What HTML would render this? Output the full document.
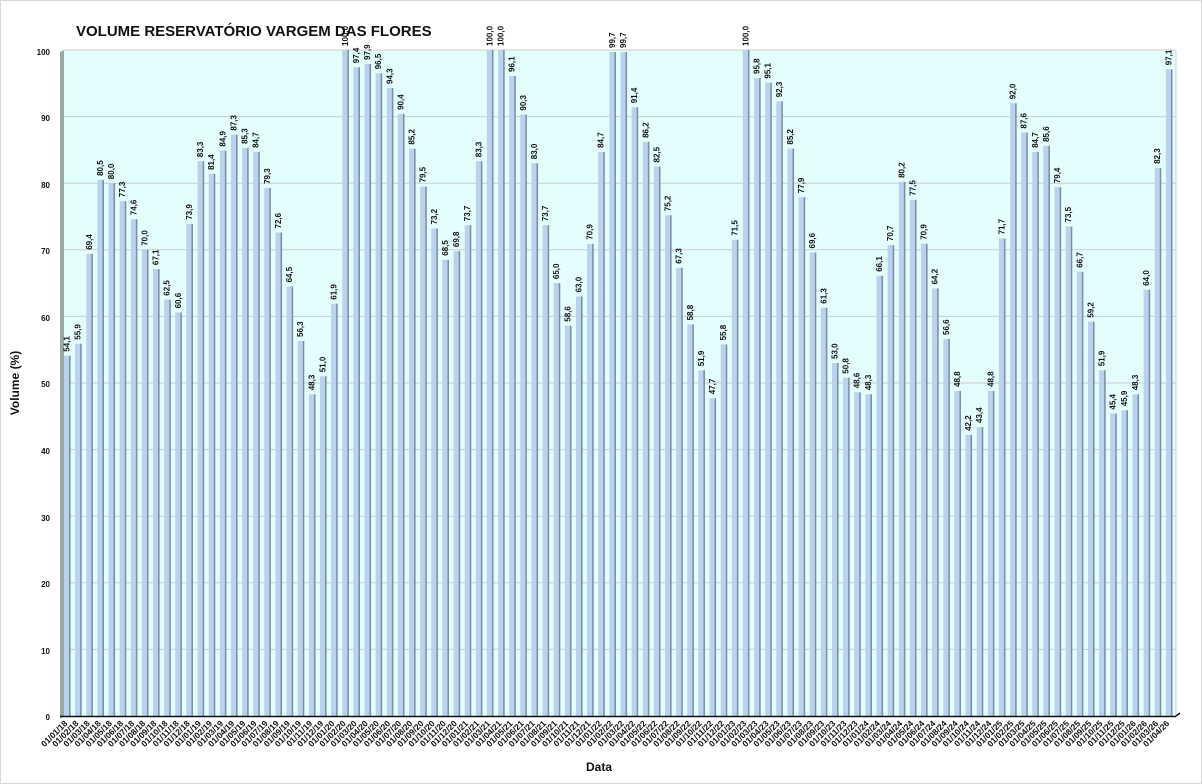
<!DOCTYPE html>
<html><head><meta charset="utf-8"><style>
body{margin:0;background:#fff}
svg{display:block;font-family:"Liberation Sans",Arial,sans-serif}
.b{fill:#b9d2ee}.e{fill:#7d8fa3}
.v{font-size:8px;font-weight:bold;fill:#111}
.x{font-size:8.5px;font-weight:bold;fill:#111;text-anchor:end}
.y{font-size:8px;font-weight:bold;fill:#111;text-anchor:end}
</style></head><body>
<svg width="1202" height="784" viewBox="0 0 1202 784">
<rect x="0.5" y="0.5" width="1201" height="783" fill="#fff" stroke="#d8d8d8"/>
<rect x="64" y="50" width="1112" height="666" fill="#e4fdfd"/>
<polygon points="60,52 64,50 64,716 60,719" fill="#9aa8a8"/>
<g stroke="#c8d0d0" stroke-width="1">
<line x1="64" x2="1176" y1="50" y2="50"/><line x1="64" x2="1176" y1="116.6" y2="116.6"/><line x1="64" x2="1176" y1="183.2" y2="183.2"/><line x1="64" x2="1176" y1="249.8" y2="249.8"/><line x1="64" x2="1176" y1="316.4" y2="316.4"/><line x1="64" x2="1176" y1="383" y2="383"/><line x1="64" x2="1176" y1="449.6" y2="449.6"/><line x1="64" x2="1176" y1="516.2" y2="516.2"/><line x1="64" x2="1176" y1="582.8" y2="582.8"/><line x1="64" x2="1176" y1="649.4" y2="649.4"/>
</g>
<line x1="1176" y1="50" x2="1176" y2="716" stroke="#c8d0d0"/>
<g class="y"><text x="50" y="55">100</text><text x="50" y="121">90</text><text x="50" y="188">80</text><text x="50" y="254">70</text><text x="50" y="321">60</text><text x="50" y="387">50</text><text x="50" y="454">40</text><text x="50" y="521">30</text><text x="50" y="587">20</text><text x="50" y="654">10</text><text x="50" y="720">0</text></g>
<text x="76" y="36" font-size="15" font-weight="bold" fill="#111">VOLUME RESERVATÓRIO VARGEM DAS FLORES</text>
<text transform="translate(19,383) rotate(-90)" font-size="12" font-weight="bold" text-anchor="middle" fill="#111">Volume (%)</text>
<text x="599" y="771" font-size="12" font-weight="bold" text-anchor="middle" fill="#111">Data</text>
<g id="bars">
<g transform="translate(64.0,716)"><rect class="b" y="-360.3" width="5" height="360.3"/><rect class="e" x="5" y="-360.3" width="1.6" height="360.3"/><text class="v" transform="translate(5.5,-364.3) rotate(-90)">54,1</text></g>
<g transform="translate(75.1,716)"><rect class="b" y="-372.3" width="5" height="372.3"/><rect class="e" x="5" y="-372.3" width="1.6" height="372.3"/><text class="v" transform="translate(5.5,-376.3) rotate(-90)">55,9</text></g>
<g transform="translate(86.3,716)"><rect class="b" y="-462.2" width="5" height="462.2"/><rect class="e" x="5" y="-462.2" width="1.6" height="462.2"/><text class="v" transform="translate(5.5,-466.2) rotate(-90)">69,4</text></g>
<g transform="translate(97.4,716)"><rect class="b" y="-536.1" width="5" height="536.1"/><rect class="e" x="5" y="-536.1" width="1.6" height="536.1"/><text class="v" transform="translate(5.5,-540.1) rotate(-90)">80,5</text></g>
<g transform="translate(108.5,716)"><rect class="b" y="-532.8" width="5" height="532.8"/><rect class="e" x="5" y="-532.8" width="1.6" height="532.8"/><text class="v" transform="translate(5.5,-536.8) rotate(-90)">80,0</text></g>
<g transform="translate(119.7,716)"><rect class="b" y="-514.8" width="5" height="514.8"/><rect class="e" x="5" y="-514.8" width="1.6" height="514.8"/><text class="v" transform="translate(5.5,-518.8) rotate(-90)">77,3</text></g>
<g transform="translate(130.8,716)"><rect class="b" y="-496.8" width="5" height="496.8"/><rect class="e" x="5" y="-496.8" width="1.6" height="496.8"/><text class="v" transform="translate(5.5,-500.8) rotate(-90)">74,6</text></g>
<g transform="translate(141.9,716)"><rect class="b" y="-466.2" width="5" height="466.2"/><rect class="e" x="5" y="-466.2" width="1.6" height="466.2"/><text class="v" transform="translate(5.5,-470.2) rotate(-90)">70,0</text></g>
<g transform="translate(153.0,716)"><rect class="b" y="-446.9" width="5" height="446.9"/><rect class="e" x="5" y="-446.9" width="1.6" height="446.9"/><text class="v" transform="translate(5.5,-450.9) rotate(-90)">67,1</text></g>
<g transform="translate(164.2,716)"><rect class="b" y="-416.3" width="5" height="416.3"/><rect class="e" x="5" y="-416.3" width="1.6" height="416.3"/><text class="v" transform="translate(5.5,-420.3) rotate(-90)">62,5</text></g>
<g transform="translate(175.3,716)"><rect class="b" y="-403.6" width="5" height="403.6"/><rect class="e" x="5" y="-403.6" width="1.6" height="403.6"/><text class="v" transform="translate(5.5,-407.6) rotate(-90)">60,6</text></g>
<g transform="translate(186.4,716)"><rect class="b" y="-492.2" width="5" height="492.2"/><rect class="e" x="5" y="-492.2" width="1.6" height="492.2"/><text class="v" transform="translate(5.5,-496.2) rotate(-90)">73,9</text></g>
<g transform="translate(197.6,716)"><rect class="b" y="-554.8" width="5" height="554.8"/><rect class="e" x="5" y="-554.8" width="1.6" height="554.8"/><text class="v" transform="translate(5.5,-558.8) rotate(-90)">83,3</text></g>
<g transform="translate(208.7,716)"><rect class="b" y="-542.1" width="5" height="542.1"/><rect class="e" x="5" y="-542.1" width="1.6" height="542.1"/><text class="v" transform="translate(5.5,-546.1) rotate(-90)">81,4</text></g>
<g transform="translate(219.8,716)"><rect class="b" y="-565.4" width="5" height="565.4"/><rect class="e" x="5" y="-565.4" width="1.6" height="565.4"/><text class="v" transform="translate(5.5,-569.4) rotate(-90)">84,9</text></g>
<g transform="translate(231.0,716)"><rect class="b" y="-581.4" width="5" height="581.4"/><rect class="e" x="5" y="-581.4" width="1.6" height="581.4"/><text class="v" transform="translate(5.5,-585.4) rotate(-90)">87,3</text></g>
<g transform="translate(242.1,716)"><rect class="b" y="-568.1" width="5" height="568.1"/><rect class="e" x="5" y="-568.1" width="1.6" height="568.1"/><text class="v" transform="translate(5.5,-572.1) rotate(-90)">85,3</text></g>
<g transform="translate(253.2,716)"><rect class="b" y="-564.1" width="5" height="564.1"/><rect class="e" x="5" y="-564.1" width="1.6" height="564.1"/><text class="v" transform="translate(5.5,-568.1) rotate(-90)">84,7</text></g>
<g transform="translate(264.3,716)"><rect class="b" y="-528.1" width="5" height="528.1"/><rect class="e" x="5" y="-528.1" width="1.6" height="528.1"/><text class="v" transform="translate(5.5,-532.1) rotate(-90)">79,3</text></g>
<g transform="translate(275.5,716)"><rect class="b" y="-483.5" width="5" height="483.5"/><rect class="e" x="5" y="-483.5" width="1.6" height="483.5"/><text class="v" transform="translate(5.5,-487.5) rotate(-90)">72,6</text></g>
<g transform="translate(286.6,716)"><rect class="b" y="-429.6" width="5" height="429.6"/><rect class="e" x="5" y="-429.6" width="1.6" height="429.6"/><text class="v" transform="translate(5.5,-433.6) rotate(-90)">64,5</text></g>
<g transform="translate(297.7,716)"><rect class="b" y="-375.0" width="5" height="375.0"/><rect class="e" x="5" y="-375.0" width="1.6" height="375.0"/><text class="v" transform="translate(5.5,-379.0) rotate(-90)">56,3</text></g>
<g transform="translate(308.9,716)"><rect class="b" y="-321.7" width="5" height="321.7"/><rect class="e" x="5" y="-321.7" width="1.6" height="321.7"/><text class="v" transform="translate(5.5,-325.7) rotate(-90)">48,3</text></g>
<g transform="translate(320.0,716)"><rect class="b" y="-339.7" width="5" height="339.7"/><rect class="e" x="5" y="-339.7" width="1.6" height="339.7"/><text class="v" transform="translate(5.5,-343.7) rotate(-90)">51,0</text></g>
<g transform="translate(331.1,716)"><rect class="b" y="-412.3" width="5" height="412.3"/><rect class="e" x="5" y="-412.3" width="1.6" height="412.3"/><text class="v" transform="translate(5.5,-416.3) rotate(-90)">61,9</text></g>
<g transform="translate(342.3,716)"><rect class="b" y="-666" width="5" height="666"/><rect class="e" x="5" y="-666" width="1.6" height="666"/><text class="v" transform="translate(5.5,-670) rotate(-90)">100,0</text></g>
<g transform="translate(353.4,716)"><rect class="b" y="-648.7" width="5" height="648.7"/><rect class="e" x="5" y="-648.7" width="1.6" height="648.7"/><text class="v" transform="translate(5.5,-652.7) rotate(-90)">97,4</text></g>
<g transform="translate(364.5,716)"><rect class="b" y="-652.0" width="5" height="652.0"/><rect class="e" x="5" y="-652.0" width="1.6" height="652.0"/><text class="v" transform="translate(5.5,-656.0) rotate(-90)">97,9</text></g>
<g transform="translate(375.6,716)"><rect class="b" y="-642.7" width="5" height="642.7"/><rect class="e" x="5" y="-642.7" width="1.6" height="642.7"/><text class="v" transform="translate(5.5,-646.7) rotate(-90)">96,5</text></g>
<g transform="translate(386.8,716)"><rect class="b" y="-628.0" width="5" height="628.0"/><rect class="e" x="5" y="-628.0" width="1.6" height="628.0"/><text class="v" transform="translate(5.5,-632.0) rotate(-90)">94,3</text></g>
<g transform="translate(397.9,716)"><rect class="b" y="-602.1" width="5" height="602.1"/><rect class="e" x="5" y="-602.1" width="1.6" height="602.1"/><text class="v" transform="translate(5.5,-606.1) rotate(-90)">90,4</text></g>
<g transform="translate(409.0,716)"><rect class="b" y="-567.4" width="5" height="567.4"/><rect class="e" x="5" y="-567.4" width="1.6" height="567.4"/><text class="v" transform="translate(5.5,-571.4) rotate(-90)">85,2</text></g>
<g transform="translate(420.2,716)"><rect class="b" y="-529.5" width="5" height="529.5"/><rect class="e" x="5" y="-529.5" width="1.6" height="529.5"/><text class="v" transform="translate(5.5,-533.5) rotate(-90)">79,5</text></g>
<g transform="translate(431.3,716)"><rect class="b" y="-487.5" width="5" height="487.5"/><rect class="e" x="5" y="-487.5" width="1.6" height="487.5"/><text class="v" transform="translate(5.5,-491.5) rotate(-90)">73,2</text></g>
<g transform="translate(442.4,716)"><rect class="b" y="-456.2" width="5" height="456.2"/><rect class="e" x="5" y="-456.2" width="1.6" height="456.2"/><text class="v" transform="translate(5.5,-460.2) rotate(-90)">68,5</text></g>
<g transform="translate(453.6,716)"><rect class="b" y="-464.9" width="5" height="464.9"/><rect class="e" x="5" y="-464.9" width="1.6" height="464.9"/><text class="v" transform="translate(5.5,-468.9) rotate(-90)">69,8</text></g>
<g transform="translate(464.7,716)"><rect class="b" y="-490.8" width="5" height="490.8"/><rect class="e" x="5" y="-490.8" width="1.6" height="490.8"/><text class="v" transform="translate(5.5,-494.8) rotate(-90)">73,7</text></g>
<g transform="translate(475.8,716)"><rect class="b" y="-554.8" width="5" height="554.8"/><rect class="e" x="5" y="-554.8" width="1.6" height="554.8"/><text class="v" transform="translate(5.5,-558.8) rotate(-90)">83,3</text></g>
<g transform="translate(486.9,716)"><rect class="b" y="-666" width="5" height="666"/><rect class="e" x="5" y="-666" width="1.6" height="666"/><text class="v" transform="translate(5.5,-670) rotate(-90)">100,0</text></g>
<g transform="translate(498.1,716)"><rect class="b" y="-666" width="5" height="666"/><rect class="e" x="5" y="-666" width="1.6" height="666"/><text class="v" transform="translate(5.5,-670) rotate(-90)">100,0</text></g>
<g transform="translate(509.2,716)"><rect class="b" y="-640.0" width="5" height="640.0"/><rect class="e" x="5" y="-640.0" width="1.6" height="640.0"/><text class="v" transform="translate(5.5,-644.0) rotate(-90)">96,1</text></g>
<g transform="translate(520.3,716)"><rect class="b" y="-601.4" width="5" height="601.4"/><rect class="e" x="5" y="-601.4" width="1.6" height="601.4"/><text class="v" transform="translate(5.5,-605.4) rotate(-90)">90,3</text></g>
<g transform="translate(531.5,716)"><rect class="b" y="-552.8" width="5" height="552.8"/><rect class="e" x="5" y="-552.8" width="1.6" height="552.8"/><text class="v" transform="translate(5.5,-556.8) rotate(-90)">83,0</text></g>
<g transform="translate(542.6,716)"><rect class="b" y="-490.8" width="5" height="490.8"/><rect class="e" x="5" y="-490.8" width="1.6" height="490.8"/><text class="v" transform="translate(5.5,-494.8) rotate(-90)">73,7</text></g>
<g transform="translate(553.7,716)"><rect class="b" y="-432.9" width="5" height="432.9"/><rect class="e" x="5" y="-432.9" width="1.6" height="432.9"/><text class="v" transform="translate(5.5,-436.9) rotate(-90)">65,0</text></g>
<g transform="translate(564.9,716)"><rect class="b" y="-390.3" width="5" height="390.3"/><rect class="e" x="5" y="-390.3" width="1.6" height="390.3"/><text class="v" transform="translate(5.5,-394.3) rotate(-90)">58,6</text></g>
<g transform="translate(576.0,716)"><rect class="b" y="-419.6" width="5" height="419.6"/><rect class="e" x="5" y="-419.6" width="1.6" height="419.6"/><text class="v" transform="translate(5.5,-423.6) rotate(-90)">63,0</text></g>
<g transform="translate(587.1,716)"><rect class="b" y="-472.2" width="5" height="472.2"/><rect class="e" x="5" y="-472.2" width="1.6" height="472.2"/><text class="v" transform="translate(5.5,-476.2) rotate(-90)">70,9</text></g>
<g transform="translate(598.2,716)"><rect class="b" y="-564.1" width="5" height="564.1"/><rect class="e" x="5" y="-564.1" width="1.6" height="564.1"/><text class="v" transform="translate(5.5,-568.1) rotate(-90)">84,7</text></g>
<g transform="translate(609.4,716)"><rect class="b" y="-664.0" width="5" height="664.0"/><rect class="e" x="5" y="-664.0" width="1.6" height="664.0"/><text class="v" transform="translate(5.5,-668.0) rotate(-90)">99,7</text></g>
<g transform="translate(620.5,716)"><rect class="b" y="-664.0" width="5" height="664.0"/><rect class="e" x="5" y="-664.0" width="1.6" height="664.0"/><text class="v" transform="translate(5.5,-668.0) rotate(-90)">99,7</text></g>
<g transform="translate(631.6,716)"><rect class="b" y="-608.7" width="5" height="608.7"/><rect class="e" x="5" y="-608.7" width="1.6" height="608.7"/><text class="v" transform="translate(5.5,-612.7) rotate(-90)">91,4</text></g>
<g transform="translate(642.8,716)"><rect class="b" y="-574.1" width="5" height="574.1"/><rect class="e" x="5" y="-574.1" width="1.6" height="574.1"/><text class="v" transform="translate(5.5,-578.1) rotate(-90)">86,2</text></g>
<g transform="translate(653.9,716)"><rect class="b" y="-549.5" width="5" height="549.5"/><rect class="e" x="5" y="-549.5" width="1.6" height="549.5"/><text class="v" transform="translate(5.5,-553.5) rotate(-90)">82,5</text></g>
<g transform="translate(665.0,716)"><rect class="b" y="-500.8" width="5" height="500.8"/><rect class="e" x="5" y="-500.8" width="1.6" height="500.8"/><text class="v" transform="translate(5.5,-504.8) rotate(-90)">75,2</text></g>
<g transform="translate(676.2,716)"><rect class="b" y="-448.2" width="5" height="448.2"/><rect class="e" x="5" y="-448.2" width="1.6" height="448.2"/><text class="v" transform="translate(5.5,-452.2) rotate(-90)">67,3</text></g>
<g transform="translate(687.3,716)"><rect class="b" y="-391.6" width="5" height="391.6"/><rect class="e" x="5" y="-391.6" width="1.6" height="391.6"/><text class="v" transform="translate(5.5,-395.6) rotate(-90)">58,8</text></g>
<g transform="translate(698.4,716)"><rect class="b" y="-345.7" width="5" height="345.7"/><rect class="e" x="5" y="-345.7" width="1.6" height="345.7"/><text class="v" transform="translate(5.5,-349.7) rotate(-90)">51,9</text></g>
<g transform="translate(709.5,716)"><rect class="b" y="-317.7" width="5" height="317.7"/><rect class="e" x="5" y="-317.7" width="1.6" height="317.7"/><text class="v" transform="translate(5.5,-321.7) rotate(-90)">47,7</text></g>
<g transform="translate(720.7,716)"><rect class="b" y="-371.6" width="5" height="371.6"/><rect class="e" x="5" y="-371.6" width="1.6" height="371.6"/><text class="v" transform="translate(5.5,-375.6) rotate(-90)">55,8</text></g>
<g transform="translate(731.8,716)"><rect class="b" y="-476.2" width="5" height="476.2"/><rect class="e" x="5" y="-476.2" width="1.6" height="476.2"/><text class="v" transform="translate(5.5,-480.2) rotate(-90)">71,5</text></g>
<g transform="translate(742.9,716)"><rect class="b" y="-666" width="5" height="666"/><rect class="e" x="5" y="-666" width="1.6" height="666"/><text class="v" transform="translate(5.5,-670) rotate(-90)">100,0</text></g>
<g transform="translate(754.1,716)"><rect class="b" y="-638.0" width="5" height="638.0"/><rect class="e" x="5" y="-638.0" width="1.6" height="638.0"/><text class="v" transform="translate(5.5,-642.0) rotate(-90)">95,8</text></g>
<g transform="translate(765.2,716)"><rect class="b" y="-633.4" width="5" height="633.4"/><rect class="e" x="5" y="-633.4" width="1.6" height="633.4"/><text class="v" transform="translate(5.5,-637.4) rotate(-90)">95,1</text></g>
<g transform="translate(776.3,716)"><rect class="b" y="-614.7" width="5" height="614.7"/><rect class="e" x="5" y="-614.7" width="1.6" height="614.7"/><text class="v" transform="translate(5.5,-618.7) rotate(-90)">92,3</text></g>
<g transform="translate(787.5,716)"><rect class="b" y="-567.4" width="5" height="567.4"/><rect class="e" x="5" y="-567.4" width="1.6" height="567.4"/><text class="v" transform="translate(5.5,-571.4) rotate(-90)">85,2</text></g>
<g transform="translate(798.6,716)"><rect class="b" y="-518.8" width="5" height="518.8"/><rect class="e" x="5" y="-518.8" width="1.6" height="518.8"/><text class="v" transform="translate(5.5,-522.8) rotate(-90)">77,9</text></g>
<g transform="translate(809.7,716)"><rect class="b" y="-463.5" width="5" height="463.5"/><rect class="e" x="5" y="-463.5" width="1.6" height="463.5"/><text class="v" transform="translate(5.5,-467.5) rotate(-90)">69,6</text></g>
<g transform="translate(820.8,716)"><rect class="b" y="-408.3" width="5" height="408.3"/><rect class="e" x="5" y="-408.3" width="1.6" height="408.3"/><text class="v" transform="translate(5.5,-412.3) rotate(-90)">61,3</text></g>
<g transform="translate(832.0,716)"><rect class="b" y="-353.0" width="5" height="353.0"/><rect class="e" x="5" y="-353.0" width="1.6" height="353.0"/><text class="v" transform="translate(5.5,-357.0) rotate(-90)">53,0</text></g>
<g transform="translate(843.1,716)"><rect class="b" y="-338.3" width="5" height="338.3"/><rect class="e" x="5" y="-338.3" width="1.6" height="338.3"/><text class="v" transform="translate(5.5,-342.3) rotate(-90)">50,8</text></g>
<g transform="translate(854.2,716)"><rect class="b" y="-323.7" width="5" height="323.7"/><rect class="e" x="5" y="-323.7" width="1.6" height="323.7"/><text class="v" transform="translate(5.5,-327.7) rotate(-90)">48,6</text></g>
<g transform="translate(865.4,716)"><rect class="b" y="-321.7" width="5" height="321.7"/><rect class="e" x="5" y="-321.7" width="1.6" height="321.7"/><text class="v" transform="translate(5.5,-325.7) rotate(-90)">48,3</text></g>
<g transform="translate(876.5,716)"><rect class="b" y="-440.2" width="5" height="440.2"/><rect class="e" x="5" y="-440.2" width="1.6" height="440.2"/><text class="v" transform="translate(5.5,-444.2) rotate(-90)">66,1</text></g>
<g transform="translate(887.6,716)"><rect class="b" y="-470.9" width="5" height="470.9"/><rect class="e" x="5" y="-470.9" width="1.6" height="470.9"/><text class="v" transform="translate(5.5,-474.9) rotate(-90)">70,7</text></g>
<g transform="translate(898.8,716)"><rect class="b" y="-534.1" width="5" height="534.1"/><rect class="e" x="5" y="-534.1" width="1.6" height="534.1"/><text class="v" transform="translate(5.5,-538.1) rotate(-90)">80,2</text></g>
<g transform="translate(909.9,716)"><rect class="b" y="-516.2" width="5" height="516.2"/><rect class="e" x="5" y="-516.2" width="1.6" height="516.2"/><text class="v" transform="translate(5.5,-520.2) rotate(-90)">77,5</text></g>
<g transform="translate(921.0,716)"><rect class="b" y="-472.2" width="5" height="472.2"/><rect class="e" x="5" y="-472.2" width="1.6" height="472.2"/><text class="v" transform="translate(5.5,-476.2) rotate(-90)">70,9</text></g>
<g transform="translate(932.1,716)"><rect class="b" y="-427.6" width="5" height="427.6"/><rect class="e" x="5" y="-427.6" width="1.6" height="427.6"/><text class="v" transform="translate(5.5,-431.6) rotate(-90)">64,2</text></g>
<g transform="translate(943.3,716)"><rect class="b" y="-377.0" width="5" height="377.0"/><rect class="e" x="5" y="-377.0" width="1.6" height="377.0"/><text class="v" transform="translate(5.5,-381.0) rotate(-90)">56,6</text></g>
<g transform="translate(954.4,716)"><rect class="b" y="-325.0" width="5" height="325.0"/><rect class="e" x="5" y="-325.0" width="1.6" height="325.0"/><text class="v" transform="translate(5.5,-329.0) rotate(-90)">48,8</text></g>
<g transform="translate(965.5,716)"><rect class="b" y="-281.1" width="5" height="281.1"/><rect class="e" x="5" y="-281.1" width="1.6" height="281.1"/><text class="v" transform="translate(5.5,-285.1) rotate(-90)">42,2</text></g>
<g transform="translate(976.7,716)"><rect class="b" y="-289.0" width="5" height="289.0"/><rect class="e" x="5" y="-289.0" width="1.6" height="289.0"/><text class="v" transform="translate(5.5,-293.0) rotate(-90)">43,4</text></g>
<g transform="translate(987.8,716)"><rect class="b" y="-325.0" width="5" height="325.0"/><rect class="e" x="5" y="-325.0" width="1.6" height="325.0"/><text class="v" transform="translate(5.5,-329.0) rotate(-90)">48,8</text></g>
<g transform="translate(998.9,716)"><rect class="b" y="-477.5" width="5" height="477.5"/><rect class="e" x="5" y="-477.5" width="1.6" height="477.5"/><text class="v" transform="translate(5.5,-481.5) rotate(-90)">71,7</text></g>
<g transform="translate(1010.1,716)"><rect class="b" y="-612.7" width="5" height="612.7"/><rect class="e" x="5" y="-612.7" width="1.6" height="612.7"/><text class="v" transform="translate(5.5,-616.7) rotate(-90)">92,0</text></g>
<g transform="translate(1021.2,716)"><rect class="b" y="-583.4" width="5" height="583.4"/><rect class="e" x="5" y="-583.4" width="1.6" height="583.4"/><text class="v" transform="translate(5.5,-587.4) rotate(-90)">87,6</text></g>
<g transform="translate(1032.3,716)"><rect class="b" y="-564.1" width="5" height="564.1"/><rect class="e" x="5" y="-564.1" width="1.6" height="564.1"/><text class="v" transform="translate(5.5,-568.1) rotate(-90)">84,7</text></g>
<g transform="translate(1043.4,716)"><rect class="b" y="-570.1" width="5" height="570.1"/><rect class="e" x="5" y="-570.1" width="1.6" height="570.1"/><text class="v" transform="translate(5.5,-574.1) rotate(-90)">85,6</text></g>
<g transform="translate(1054.6,716)"><rect class="b" y="-528.8" width="5" height="528.8"/><rect class="e" x="5" y="-528.8" width="1.6" height="528.8"/><text class="v" transform="translate(5.5,-532.8) rotate(-90)">79,4</text></g>
<g transform="translate(1065.7,716)"><rect class="b" y="-489.5" width="5" height="489.5"/><rect class="e" x="5" y="-489.5" width="1.6" height="489.5"/><text class="v" transform="translate(5.5,-493.5) rotate(-90)">73,5</text></g>
<g transform="translate(1076.8,716)"><rect class="b" y="-444.2" width="5" height="444.2"/><rect class="e" x="5" y="-444.2" width="1.6" height="444.2"/><text class="v" transform="translate(5.5,-448.2) rotate(-90)">66,7</text></g>
<g transform="translate(1088.0,716)"><rect class="b" y="-394.3" width="5" height="394.3"/><rect class="e" x="5" y="-394.3" width="1.6" height="394.3"/><text class="v" transform="translate(5.5,-398.3) rotate(-90)">59,2</text></g>
<g transform="translate(1099.1,716)"><rect class="b" y="-345.7" width="5" height="345.7"/><rect class="e" x="5" y="-345.7" width="1.6" height="345.7"/><text class="v" transform="translate(5.5,-349.7) rotate(-90)">51,9</text></g>
<g transform="translate(1110.2,716)"><rect class="b" y="-302.4" width="5" height="302.4"/><rect class="e" x="5" y="-302.4" width="1.6" height="302.4"/><text class="v" transform="translate(5.5,-306.4) rotate(-90)">45,4</text></g>
<g transform="translate(1121.4,716)"><rect class="b" y="-305.7" width="5" height="305.7"/><rect class="e" x="5" y="-305.7" width="1.6" height="305.7"/><text class="v" transform="translate(5.5,-309.7) rotate(-90)">45,9</text></g>
<g transform="translate(1132.5,716)"><rect class="b" y="-321.7" width="5" height="321.7"/><rect class="e" x="5" y="-321.7" width="1.6" height="321.7"/><text class="v" transform="translate(5.5,-325.7) rotate(-90)">48,3</text></g>
<g transform="translate(1143.6,716)"><rect class="b" y="-426.2" width="5" height="426.2"/><rect class="e" x="5" y="-426.2" width="1.6" height="426.2"/><text class="v" transform="translate(5.5,-430.2) rotate(-90)">64,0</text></g>
<g transform="translate(1154.7,716)"><rect class="b" y="-548.1" width="5" height="548.1"/><rect class="e" x="5" y="-548.1" width="1.6" height="548.1"/><text class="v" transform="translate(5.5,-552.1) rotate(-90)">82,3</text></g>
<g transform="translate(1165.9,716)"><rect class="b" y="-646.7" width="5" height="646.7"/><rect class="e" x="5" y="-646.7" width="1.6" height="646.7"/><text class="v" transform="translate(5.5,-650.7) rotate(-90)">97,1</text></g>
</g>
<line x1="60" y1="716.5" x2="1176" y2="716.5" stroke="#111" stroke-width="1.5"/>
<line x1="1176" y1="716" x2="1180" y2="713" stroke="#111" stroke-width="1.5"/>
<g class="x" transform="translate(-3,2)">
<text transform="translate(71,722) rotate(-45)">01/01/18</text><text transform="translate(82.1,722) rotate(-45)">01/02/18</text><text transform="translate(93.3,722) rotate(-45)">01/03/18</text><text transform="translate(104.4,722) rotate(-45)">01/04/18</text><text transform="translate(115.5,722) rotate(-45)">01/05/18</text><text transform="translate(126.7,722) rotate(-45)">01/06/18</text><text transform="translate(137.8,722) rotate(-45)">01/07/18</text><text transform="translate(148.9,722) rotate(-45)">01/08/18</text><text transform="translate(160,722) rotate(-45)">01/09/18</text><text transform="translate(171.2,722) rotate(-45)">01/10/18</text><text transform="translate(182.3,722) rotate(-45)">01/11/18</text><text transform="translate(193.4,722) rotate(-45)">01/12/18</text>
<text transform="translate(204.6,722) rotate(-45)">01/01/19</text><text transform="translate(215.7,722) rotate(-45)">01/02/19</text><text transform="translate(226.8,722) rotate(-45)">01/03/19</text><text transform="translate(238,722) rotate(-45)">01/04/19</text><text transform="translate(249.1,722) rotate(-45)">01/05/19</text><text transform="translate(260.2,722) rotate(-45)">01/06/19</text><text transform="translate(271.3,722) rotate(-45)">01/07/19</text><text transform="translate(282.5,722) rotate(-45)">01/08/19</text><text transform="translate(293.6,722) rotate(-45)">01/09/19</text><text transform="translate(304.7,722) rotate(-45)">01/10/19</text><text transform="translate(315.9,722) rotate(-45)">01/11/19</text><text transform="translate(327,722) rotate(-45)">01/12/19</text>
<text transform="translate(338.1,722) rotate(-45)">01/01/20</text><text transform="translate(349.3,722) rotate(-45)">01/02/20</text><text transform="translate(360.4,722) rotate(-45)">01/03/20</text><text transform="translate(371.5,722) rotate(-45)">01/04/20</text><text transform="translate(382.6,722) rotate(-45)">01/05/20</text><text transform="translate(393.8,722) rotate(-45)">01/06/20</text><text transform="translate(404.9,722) rotate(-45)">01/07/20</text><text transform="translate(416,722) rotate(-45)">01/08/20</text><text transform="translate(427.2,722) rotate(-45)">01/09/20</text><text transform="translate(438.3,722) rotate(-45)">01/10/20</text><text transform="translate(449.4,722) rotate(-45)">01/11/20</text><text transform="translate(460.6,722) rotate(-45)">01/12/20</text>
<text transform="translate(471.7,722) rotate(-45)">01/01/21</text><text transform="translate(482.8,722) rotate(-45)">01/02/21</text><text transform="translate(493.9,722) rotate(-45)">01/03/21</text><text transform="translate(505.1,722) rotate(-45)">01/04/21</text><text transform="translate(516.2,722) rotate(-45)">01/05/21</text><text transform="translate(527.3,722) rotate(-45)">01/06/21</text><text transform="translate(538.5,722) rotate(-45)">01/07/21</text><text transform="translate(549.6,722) rotate(-45)">01/08/21</text><text transform="translate(560.7,722) rotate(-45)">01/09/21</text><text transform="translate(571.9,722) rotate(-45)">01/10/21</text><text transform="translate(583,722) rotate(-45)">01/11/21</text><text transform="translate(594.1,722) rotate(-45)">01/12/21</text>
<text transform="translate(605.2,722) rotate(-45)">01/01/22</text><text transform="translate(616.4,722) rotate(-45)">01/02/22</text><text transform="translate(627.5,722) rotate(-45)">01/03/22</text><text transform="translate(638.6,722) rotate(-45)">01/04/22</text><text transform="translate(649.8,722) rotate(-45)">01/05/22</text><text transform="translate(660.9,722) rotate(-45)">01/06/22</text><text transform="translate(672,722) rotate(-45)">01/07/22</text><text transform="translate(683.2,722) rotate(-45)">01/08/22</text><text transform="translate(694.3,722) rotate(-45)">01/09/22</text><text transform="translate(705.4,722) rotate(-45)">01/10/22</text><text transform="translate(716.5,722) rotate(-45)">01/11/22</text><text transform="translate(727.7,722) rotate(-45)">01/12/22</text>
<text transform="translate(738.8,722) rotate(-45)">01/01/23</text><text transform="translate(749.9,722) rotate(-45)">01/02/23</text><text transform="translate(761.1,722) rotate(-45)">01/03/23</text><text transform="translate(772.2,722) rotate(-45)">01/04/23</text><text transform="translate(783.3,722) rotate(-45)">01/05/23</text><text transform="translate(794.5,722) rotate(-45)">01/06/23</text><text transform="translate(805.6,722) rotate(-45)">01/07/23</text><text transform="translate(816.7,722) rotate(-45)">01/08/23</text><text transform="translate(827.8,722) rotate(-45)">01/09/23</text><text transform="translate(839,722) rotate(-45)">01/10/23</text><text transform="translate(850.1,722) rotate(-45)">01/11/23</text><text transform="translate(861.2,722) rotate(-45)">01/12/23</text>
<text transform="translate(872.4,722) rotate(-45)">01/01/24</text><text transform="translate(883.5,722) rotate(-45)">01/02/24</text><text transform="translate(894.6,722) rotate(-45)">01/03/24</text><text transform="translate(905.8,722) rotate(-45)">01/04/24</text><text transform="translate(916.9,722) rotate(-45)">01/05/24</text><text transform="translate(928,722) rotate(-45)">01/06/24</text><text transform="translate(939.1,722) rotate(-45)">01/07/24</text><text transform="translate(950.3,722) rotate(-45)">01/08/24</text><text transform="translate(961.4,722) rotate(-45)">01/09/24</text><text transform="translate(972.5,722) rotate(-45)">01/10/24</text><text transform="translate(983.7,722) rotate(-45)">01/11/24</text><text transform="translate(994.8,722) rotate(-45)">01/12/24</text>
<text transform="translate(1005.9,722) rotate(-45)">01/01/25</text><text transform="translate(1017.1,722) rotate(-45)">01/02/25</text><text transform="translate(1028.2,722) rotate(-45)">01/03/25</text><text transform="translate(1039.3,722) rotate(-45)">01/04/25</text><text transform="translate(1050.4,722) rotate(-45)">01/05/25</text><text transform="translate(1061.6,722) rotate(-45)">01/06/25</text><text transform="translate(1072.7,722) rotate(-45)">01/07/25</text><text transform="translate(1083.8,722) rotate(-45)">01/08/25</text><text transform="translate(1095,722) rotate(-45)">01/09/25</text><text transform="translate(1106.1,722) rotate(-45)">01/10/25</text><text transform="translate(1117.2,722) rotate(-45)">01/11/25</text><text transform="translate(1128.4,722) rotate(-45)">01/12/25</text>
<text transform="translate(1139.5,722) rotate(-45)">01/01/26</text><text transform="translate(1150.6,722) rotate(-45)">01/02/26</text><text transform="translate(1161.7,722) rotate(-45)">01/03/26</text><text transform="translate(1172.9,722) rotate(-45)">01/04/26</text>
</g>
</svg>
</body></html>
